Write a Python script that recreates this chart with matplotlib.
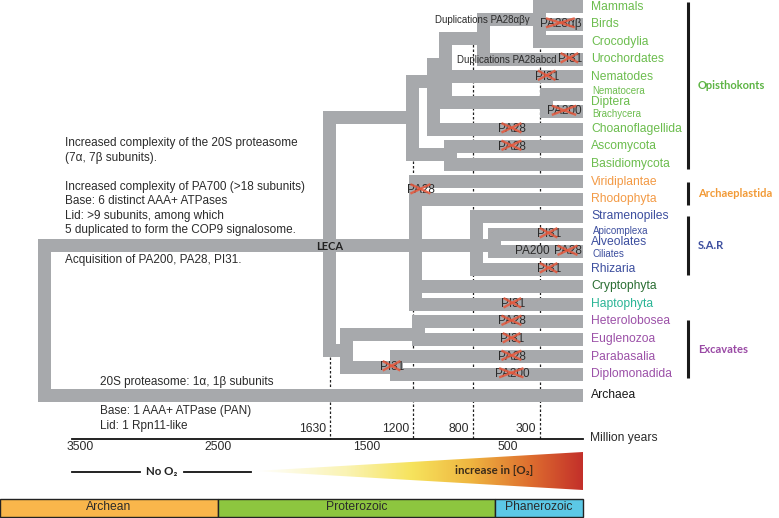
import numpy as np
import matplotlib.pyplot as plt
from matplotlib.colors import LinearSegmentedColormap
from matplotlib.patches import Polygon, Rectangle

plt.rcParams['font.family'] = ['Liberation Sans', 'DejaVu Sans']
BOLD_FONT = ['Lato', 'DejaVu Sans']

# ---------------- data ----------------
TIPS = ["Mammals", "Birds", "Crocodylia", "Urochordates", "Nematodes",
        "Nematocera", "Brachycera", "Choanoflagellida", "Ascomycota",
        "Basidiomycota", "Viridiplantae", "Rhodophyta", "Stramenopiles",
        "Apicomplexa", "Ciliates", "Rhizaria", "Cryptophyta", "Haptophyta",
        "Heterolobosea", "Euglenozoa", "Parabasalia", "Diplomonadida", "Archaea"]
TIP_ROWS = list(range(22)) + [22.2]
TIP_GROUP = ["opi"] * 10 + ["arc"] * 2 + ["sar"] * 4 + ["cry", "hap"] + ["exc"] * 4 + ["out"]
SMALL_TIPS = ["Nematocera", "Brachycera", "Apicomplexa", "Ciliates"]
MID_LABELS = ["Diptera", "Alveolates"]
MID_ROWS = [5.5, 13.5]
MID_GROUP = ["opi", "sar"]

# internal nodes: age (Myr), row of incoming branch, children
NODE_NAMES = ["root", "LECA", "Opi", "Holozoa", "Metazoa", "Chordata", "Vert", "Dipt",
              "Fungi", "Diaph", "SAR", "Alveolata", "Excavata", "Discoba", "Metamonada"]
NODE_AGES = [3720, 1630, 1205, 1060, 985, 682, 305, 258, 953, 1180, 760, 541, 1572, 1163, 1307]
NODE_ROWS = [None, 13.63, 6.37, 4.31, 3.29, 1.8, 0.77, 5.5, 8.43, 13.63, 13.63, 13.63,
             19.63, 18.77, 20.6]
NODE_CHILDREN = [
    ["LECA", "Archaea"],
    ["Opi", "Diaph", "Excavata"],
    ["Holozoa", "Fungi"],
    ["Metazoa", "Choanoflagellida"],
    ["Chordata", "Nematodes", "Dipt"],
    ["Vert", "Urochordates"],
    ["Mammals", "Birds", "Crocodylia"],
    ["Nematocera", "Brachycera"],
    ["Ascomycota", "Basidiomycota"],
    ["Viridiplantae", "Rhodophyta", "SAR", "Cryptophyta", "Haptophyta"],
    ["Stramenopiles", "Alveolata", "Rhizaria"],
    ["Apicomplexa", "Ciliates"],
    ["Discoba", "Metamonada"],
    ["Heterolobosea", "Euglenozoa"],
    ["Parabasalia", "Diplomonadida"],
]

# losses (crossed labels): text, row, age of label centre (0 = flush with tips)
LOSS_TEXT = ["PA28αβ", "PI31", "PI31", "PA200", "PA28", "PA28", "PA28", "PI31", "PA28",
             "PI31", "PI31", "PA28", "PI31", "PA28", "PA200", "PI31"]
LOSS_ROWS = [1, 3, 4, 6, 7, 8, 10.49, 13, 14, 15, 17, 18, 19, 20, 21, 20.6]
LOSS_AGES = [0, 0, 250, 0, 475, 475, 1147, 237, 0, 237, 470, 475, 475, 475, 475, 1337]

GROUPS = ["Opisthokonts", "Archaeplastida", "S.A.R", "Excavates"]
GROUP_SPAN = [(-0.25, 9.3), (10.0, 11.35), (11.95, 15.35), (17.9, 21.25)]
GROUP_KEYS = ["opi", "arc", "sar", "exc"]

TICKS_BELOW = [3500, 2500, 1500, 500]
TICKS_ABOVE = [1630, 1200, 800, 300]
DASH_TOP_ROW = [20.05, 8.8, 1.9, 1.9]

EONS = ["Archean", "Proterozoic", "Phanerozoic"]
EON_BOUNDS = [4000, 2500, 541, 0]

# ---------------- layout / style ----------------
SCALE_MY = [4000, 3500, 2500, 1630, 1500, 1200, 800, 541, 500, 300, 0]
SCALE_PX = [0, 80, 218, 330, 367, 413, 473, 495, 508, 540, 583]


def tx(my):
    return np.interp(-np.asarray(my, float), -np.array(SCALE_MY, float), SCALE_PX)


def ty(row):
    return 6.5 + 17.5 * row


W = 13
GRAY = '#a7a9ac'
TIP_END = tx(0)
COL = {"opi": '#6cbd4e', "arc": '#f39a45', "sar": '#3d4f9f', "cry": '#2a6e33',
       "hap": '#2bb596', "exc": '#9c51a8', "out": '#1a1a1a'}
GCOL = {"opi": '#5db444', "arc": '#f29a36', "sar": '#3d4f9f', "exc": '#9a4aa5'}
TXT = '#2b2b2b'

fig = plt.figure(figsize=(7.79, 5.18), dpi=100)
ax = fig.add_axes([0, 0, 1, 1])
ax.set_xlim(0, 779)
ax.set_ylim(518, 0)
ax.axis('off')

# ---------------- tree ----------------
node_age = dict(zip(NODE_NAMES, NODE_AGES))
node_row = dict(zip(NODE_NAMES, NODE_ROWS))
tip_row = dict(zip(TIPS, TIP_ROWS))


def yrow(n):
    return ty(tip_row[n]) if n in tip_row else ty(node_row[n])


for name, kids in zip(NODE_NAMES, NODE_CHILDREN):
    xn = tx(node_age[name])
    ys = [yrow(k) for k in kids]
    ax.bar(xn, max(ys) - min(ys) + W, bottom=min(ys) - W / 2, width=W,
           color=GRAY, linewidth=0, zorder=2)
    for k, yk in zip(kids, ys):
        xe = TIP_END if k in tip_row else tx(node_age[k]) + W / 2
        ax.barh(yk, xe - xn, left=xn, height=W, color=GRAY, linewidth=0, zorder=2)

# dashed time lines
axis_y = 438.5
for t, r in zip(TICKS_ABOVE, DASH_TOP_ROW):
    ax.plot([tx(t), tx(t)], [ty(r), axis_y], color='#222222', lw=0.9,
            dashes=(2, 1.6), zorder=1)

# tip labels
for name, r, g in zip(TIPS, TIP_ROWS, TIP_GROUP):
    small = name in SMALL_TIPS
    dy = 0
    if small:
        dy = -3.5 if name in ("Nematocera", "Apicomplexa") else 2.5
    ax.text(TIP_END + 8 + (1.5 if small else 0), ty(r) + dy, name,
            fontsize=7 if small else 8.7, color=COL[g], va='center', ha='left')
for name, r, g in zip(MID_LABELS, MID_ROWS, MID_GROUP):
    ax.text(TIP_END + 8, ty(r) - 0.5, name, fontsize=8.7, color=COL[g],
            va='center', ha='left')

# group brackets
for name, (r0, r1), key in zip(GROUPS, GROUP_SPAN, GROUP_KEYS):
    ax.plot([688, 688], [ty(r0), ty(r1)], color='#1a1a1a', lw=2.2,
            solid_capstyle='butt')
    ax.text(698, (ty(r0) + ty(r1)) / 2, name, fontsize=8, fontweight='bold',
            family=BOLD_FONT, color=GCOL[key], va='center', ha='left')

# loss markers
loss_texts = []
for s, r, a in zip(LOSS_TEXT, LOSS_ROWS, LOSS_AGES):
    if a == 0:
        t = ax.text(TIP_END - 1, ty(r), s, fontsize=8.5, color=TXT,
                    ha='right', va='center', zorder=4)
    else:
        t = ax.text(tx(a), ty(r), s, fontsize=8.5, color=TXT,
                    ha='center', va='center', zorder=4)
    loss_texts.append(t)
ax.text(tx(350), ty(14), "PA200", fontsize=8.5, color=TXT, ha='center',
        va='center', zorder=4)

ax.text(435, ty(0.77), "Duplications PA28αβγ", fontsize=7, color=TXT,
        ha='left', va='center', zorder=4)
ax.text(457, ty(3) + 1, "Duplications PA28abcd", fontsize=7, color=TXT,
        ha='left', va='center', zorder=4)
ax.text(tx(1630), ty(13.63) + 1.5, "LECA", fontsize=8, fontweight='bold',
        family=BOLD_FONT, color='#222222', ha='center', va='center', zorder=4)

fig.canvas.draw()
renderer = fig.canvas.get_renderer()
inv = ax.transData.inverted()
for t in loss_texts:
    bb = t.get_window_extent(renderer)
    (x0, y0), (x1, y1) = inv.transform([[bb.x0, bb.y0], [bb.x1, bb.y1]])
    w = x1 - x0
    xa, xb = x0 + 0.16 * w, x0 + 0.8 * w
    yc = (y0 + y1) / 2 - 1.2
    ya, yb = yc + 4.2, yc - 4.2
    ax.plot([xa, xb], [ya, yb], color='#e6583c', lw=1.7, alpha=0.85, zorder=5)
    ax.plot([xa, xb], [yb, ya], color='#e6583c', lw=1.7, alpha=0.85, zorder=5)

# annotations
notes_top = ["Increased complexity of the 20S proteasome",
             "(7α, 7β subunits).",
             "",
             "Increased complexity of PA700 (>18 subunits)",
             "Base: 6 distinct AAA+ ATPases",
             "Lid: >9 subunits, among which",
             "5 duplicated to form the COP9 signalosome."]
for i, s in enumerate(notes_top):
    if s:
        yy = 143 + 14.5 * i if i < 2 else 187 + 14.4 * (i - 3)
        ax.text(65, yy, s, fontsize=8.5, color=TXT, va='center', ha='left')
ax.text(65, 260, "Acquisition of PA200, PA28, PI31.", fontsize=8.5, color=TXT,
        va='center', ha='left')
ax.text(100, 382, "20S proteasome: 1α, 1β subunits", fontsize=8.5, color=TXT,
        va='center', ha='left')
ax.text(100, 411, "Base: 1 AAA+ ATPase (PAN)", fontsize=8.5, color=TXT,
        va='center', ha='left')
ax.text(100, 425.5, "Lid: 1 Rpn11-like", fontsize=8.5, color=TXT,
        va='center', ha='left')

# time axis
ax.plot([72, TIP_END], [axis_y, axis_y], color='#111111', lw=1.3)
for t in TICKS_BELOW:
    ax.text(tx(t), 447.5, str(t), fontsize=8.7, color=TXT, ha='center', va='center')
for t in TICKS_ABOVE:
    ax.text(tx(t) - 4, 428.5, str(t), fontsize=8.7, color=TXT, ha='right', va='center')
ax.text(590, 437.5, "Million years", fontsize=8.7, color=TXT, ha='left', va='center')

# oxygen
oy = 472
ax.plot([72, 140], [oy, oy], color='#111111', lw=1.3)
ax.plot([184, 251], [oy, oy], color='#111111', lw=1.3)
ax.text(162, oy, "No O₂", fontsize=8.3, fontweight='bold',
        family=BOLD_FONT, color='#222222', ha='center', va='center')
cmap = LinearSegmentedColormap.from_list(
    'o2', [(0, '#ffffff'), (0.28, '#faf3b3'), (0.48, '#f6e35c'),
           (0.66, '#efb540'), (0.84, '#de6e2f'), (1, '#c3302a')])
grad = np.linspace(0, 1, 256)[None, :]
im = ax.imshow(grad, cmap=cmap, extent=(255, TIP_END, 491, 450), aspect='auto', zorder=1)
wedge = Polygon([[255, 471], [TIP_END, 452], [TIP_END, 490]], closed=True,
                transform=ax.transData, facecolor='none', edgecolor='none')
ax.add_patch(wedge)
im.set_clip_path(wedge)
ax.text(494, 470.5, "increase in [O₂]", fontsize=8.3, fontweight='bold',
        family=BOLD_FONT, color='#3a2a1a', ha='center', va='center', zorder=3)
ax.set_xlim(0, 779)
ax.set_ylim(518, 0)

# eons
eon_cols = ['#f9b64b', '#8dc63f', '#5cc8e6']
for name, a0, a1, c in zip(EONS, EON_BOUNDS[:-1], EON_BOUNDS[1:], eon_cols):
    x0, x1 = tx(a0), tx(a1)
    ax.add_patch(Rectangle((x0, 498.5), x1 - x0, 18.5, facecolor=c,
                           edgecolor='#222222', lw=1.0))
    ax.text((x0 + x1) / 2, 507.5, name, fontsize=8.7, color=TXT,
            ha='center', va='center')

fig.savefig('out.png', dpi=100)
